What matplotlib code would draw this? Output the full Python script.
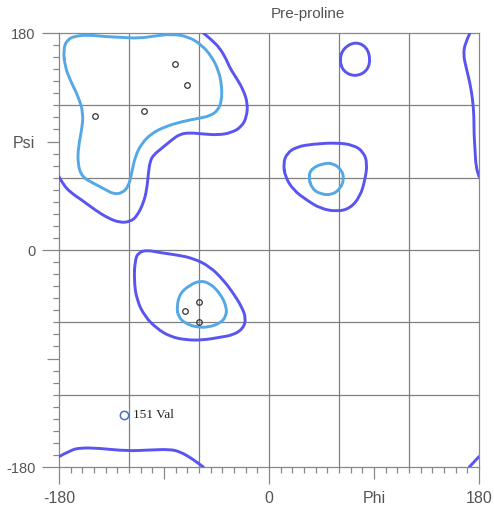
import matplotlib
matplotlib.use('Agg')
import matplotlib.pyplot as plt
from matplotlib.path import Path
from matplotlib.patches import PathPatch
import numpy as np

plt.rcParams['font.family'] = ['Liberation Sans', 'DejaVu Sans']

# residues (phi, psi)
res_phi = [-81, -70, -149, -107, -60, -72, -60]
res_psi = [154, 137, 111, 115, -43, -51, -60]

# outlier
out_phi = [-124]
out_psi = [-137]
out_label = ['151 Val']

# contours (phi, psi)
beta_inner = [(-176.3, 165.9), (-173.4, 174.2), (-166.3, 177.5), (-154.8, 178.4), (-140.5, 177),
              (-126.3, 176.4), (-112, 175.6), (-97.7, 177.5), (-83.4, 179.2), (-69.1, 177),
              (-57.7, 170.1), (-49.1, 160.4), (-43.4, 149.3), (-40.5, 136.9), (-40.5, 124.4),
              (-43.4, 116.1), (-50.5, 111.2), (-60.5, 109.2), (-74.8, 106.5), (-89.1, 102.3),
              (-100.5, 96.8), (-109.1, 88.5), (-114.8, 77.4), (-117.7, 63.6), (-120.5, 52.5),
              (-126.3, 47), (-133.4, 46.5), (-140.5, 50.3), (-150.5, 55.3), (-160.5, 60.8),
              (-164, 71.9), (-163.4, 85.7), (-160.5, 99.6), (-159.1, 113.4), (-163.4, 127.2),
              (-170.5, 141), (-174.8, 152.1)]
beta_outer = [(-180, 60.8), (-176.3, 53.9), (-169.1, 47), (-160.5, 41.5), (-149.1, 33.2),
              (-137.7, 26.3), (-127.7, 22.7), (-119.1, 23.5), (-113.4, 27.7), (-107.7, 38.7),
              (-104.8, 49.8), (-103.4, 63.6), (-102, 73.3), (-99.1, 78.8), (-92, 84.3),
              (-83.4, 91.3), (-76.3, 96.2), (-67.7, 97.3), (-56.3, 96.2), (-43.4, 95.4),
              (-32, 97.3), (-23.4, 102.3), (-19.1, 110.6), (-18.3, 121.7), (-22, 132.7),
              (-27.7, 142.4), (-33.4, 150.7), (-36.3, 157.6), (-42, 167.3), (-49.1, 174.2),
              (-56.3, 180)]
right_edge = [(172.3, 180), (168, 171.5), (166.6, 161.8), (168.8, 152.1), (172.3, 138.3),
              (174.6, 124.5), (175.7, 110.6), (175.7, 96.8), (176.6, 83), (177.4, 69.1),
              (180, 60.9)]
bottom_edge = [(-180, -171.4), (-170.6, -166.4), (-162, -164), (-144.9, -164.5), (-122, -166.7),
               (-102, -165.9), (-84.9, -165.3), (-76.3, -167.3), (-66.3, -172.8), (-56.3, -180)]
bottom_right = [(171.7, -180), (180, -171.4)]
top_circle = [(60.3, 157.6), (63.7, 167.3), (73.7, 172.8), (83.7, 168.7), (87.1, 157.6),
              (83.7, 148), (73.7, 143.8), (63.7, 148)]
alpha_outer = [(-114.8, -8.3), (-112, -2.2), (-104.8, 0), (-93.4, -2.2), (-79.1, -4.1),
               (-64.8, -6.9), (-50.6, -13.8), (-39.1, -24.9), (-30.6, -35.9), (-23.4, -47),
               (-19.7, -56.7), (-22, -65), (-30.6, -70.5), (-42, -72.4), (-56.3, -74.7),
               (-70.6, -74.7), (-84.8, -71.9), (-96.3, -65), (-106.3, -55.3), (-113.4, -41.5),
               (-115.7, -24.9)]
alpha_inner = [(-79.1, -47), (-76.3, -35.9), (-67.7, -29), (-59.1, -25.4), (-50.6, -27.6),
               (-42, -35.9), (-36.3, -47), (-36.8, -55.3), (-42, -60.8), (-52, -64.1),
               (-62, -64.1), (-72, -60.8), (-77.7, -55.3)]
lalpha_outer = [(12.3, 71.9), (15.2, 80.1), (23.8, 85.7), (38, 87.9), (58, 89), (72.3, 87.1),
                (80.9, 81.5), (84.3, 71.9), (82.3, 58), (78, 44.2), (69.5, 34.5), (58, 31.8),
                (43.8, 34.5), (32.3, 41.4), (20.9, 49.7), (13.8, 60.8)]
lalpha_inner = [(33.8, 60.8), (36.6, 67.7), (46.6, 71.9), (55.2, 71.9), (62.3, 66.3),
                (64.3, 59.4), (61.5, 51.1), (53.8, 45.6), (43.8, 46.4), (36.6, 51.1)]

dark = '#5a55f0'
light = '#55a8e6'

fig = plt.figure(figsize=(4.94, 5.11), dpi=100)
ax = fig.add_axes([59 / 494, 44 / 511, 420 / 494, 434 / 511])


def mid(a, b):
    return ((a[0] + b[0]) / 2, (a[1] + b[1]) / 2)


def draw(pts, color, closed=True):
    # smooth the outline with quadratic bezier segments through midpoints
    n = len(pts)
    if closed:
        verts = [mid(pts[-1], pts[0])]
        codes = [Path.MOVETO]
        for i in range(n):
            verts += [pts[i], mid(pts[i], pts[(i + 1) % n])]
            codes += [Path.CURVE3, Path.CURVE3]
    else:
        verts = [pts[0]]
        codes = [Path.MOVETO]
        for i in range(1, n - 1):
            verts += [pts[i], mid(pts[i], pts[i + 1])]
            codes += [Path.CURVE3, Path.CURVE3]
        verts.append(pts[-1])
        codes.append(Path.LINETO)
    ax.add_patch(PathPatch(Path(verts, codes), fill=False, edgecolor=color, lw=2.1,
                           joinstyle='round', capstyle='round', zorder=3))


for g in [-120, -60, 0, 60, 120]:
    ax.axvline(g, color='#808080', lw=0.9, zorder=1)
    ax.axhline(g, color='#808080', lw=0.9, zorder=1)

draw(beta_outer, dark, closed=False)
draw(right_edge, dark, closed=False)
draw(bottom_edge, dark, closed=False)
draw(bottom_right, dark, closed=False)
draw(top_circle, dark)
draw(alpha_outer, dark)
draw(lalpha_outer, dark)
draw(beta_inner, light)
draw(alpha_inner, light)
draw(lalpha_inner, light)

ax.plot(res_phi, res_psi, 'o', ms=4, mfc='none', mec='#333333', mew=0.9, zorder=4)
ax.plot(out_phi, out_psi, 'o', ms=6, mfc='none', mec='#4a6fd0', mew=1.1, zorder=4)
for px, py, lab in zip(out_phi, out_psi, out_label):
    ax.annotate(lab, (px, py), xytext=(6, 0), textcoords='offset points',
                va='center', ha='left', fontsize=9.5, family='Liberation Serif',
                color='#222222')

ax.set_xlim(-180, 180)
ax.set_ylim(-180, 180)
for s in ax.spines.values():
    s.set_color('#888888')
    s.set_linewidth(0.9)

major = [-180, -90, 0, 90, 180]
ax.set_xticks(major)
ax.set_yticks(major)
ax.set_xticklabels(['-180', '', '0', 'Phi', '180'], fontsize=11.5, color='#555555')
ax.set_yticklabels(['-180', '', '0', 'Psi', '180'], fontsize=10.5, color='#555555')
ax.set_xticks(np.arange(-180, 181, 10), minor=True)
ax.set_yticks(np.arange(-180, 181, 10), minor=True)
ax.tick_params(which='both', direction='out', color='#888888', width=0.9)
ax.tick_params(which='minor', length=4)
ax.tick_params(which='major', length=12, pad=5)
# shorter ticks at +-90
for axis in (ax.xaxis, ax.yaxis):
    for v, t in zip(major, axis.get_major_ticks()):
        if abs(v) == 90:
            t.tick1line.set_markersize(8.5)
ax.yaxis.get_major_ticks()[3].label1.set_fontsize(11.5)

title_y = (511 - 14 - 44) / 434
ax.text(33, title_y, 'Pre-proline', transform=ax.get_xaxis_transform(),
        ha='center', va='center', fontsize=11, color='#555555')

fig.savefig('out.png', dpi=100)
